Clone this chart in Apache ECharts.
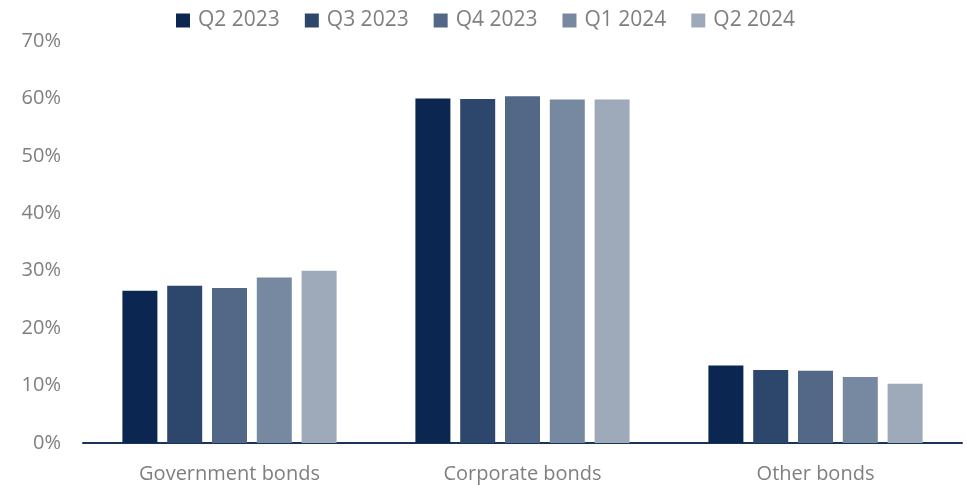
<!DOCTYPE html>
<html>
<head>
<meta charset="utf-8">
<script src="https://cdn.jsdelivr.net/npm/echarts@6/dist/echarts.min.js"></script>
<style>
html,body{margin:0;padding:0;background:#fff;}
#c{width:968px;height:485px;}
</style>
</head>
<body>
<div id="c"></div>
<script>
const categories = ['Government bonds', 'Corporate bonds', 'Other bonds'];
const seriesNames = ['Q2 2023', 'Q3 2023', 'Q4 2023', 'Q1 2024', 'Q2 2024'];
const q2_2023 = [26.5, 60.0, 13.5];
const q3_2023 = [27.4, 59.9, 12.7];
const q4_2023 = [27.0, 60.4, 12.6];
const q1_2024 = [28.8, 59.8, 11.5];
const q2_2024 = [30.0, 59.8, 10.3];
const yTicks = [0, 10, 20, 30, 40, 50, 60, 70];
const colors = ['#0b2751', '#2d466b', '#526886', '#7789a1', '#9eaaba'];

const values = [q2_2023, q3_2023, q4_2023, q1_2024, q2_2024];
const font = 'Open Sans';
const chart = echarts.init(document.getElementById('c'));
chart.setOption({
  animation: false,
  color: colors,
  textStyle: { fontFamily: font },
  legend: {
    top: 5,
    left: 171,
    itemWidth: 14,
    itemHeight: 14,
    itemGap: 25,
    icon: 'rect',
    textStyle: { fontFamily: font, fontSize: 21, color: '#7f7f7f', padding: [0, 0, 0, 3] },
    data: seriesNames
  },
  grid: { left: 83, right: 6, top: 41, bottom: 42, containLabel: false },
  xAxis: {
    type: 'category',
    data: categories,
    axisLine: { show: true, lineStyle: { color: '#1a3358', width: 2 } },
    axisTick: { show: false },
    axisLabel: { fontFamily: font, fontSize: 20, color: '#7f7f7f', margin: 21 }
  },
  yAxis: {
    type: 'value',
    min: yTicks[0],
    max: yTicks[yTicks.length - 1],
    interval: 10,
    axisLine: { show: false },
    axisTick: { show: false },
    splitLine: { show: false },
    axisLabel: { fontFamily: font, fontSize: 20, color: '#7f7f7f', margin: 22, formatter: v => v + '%' }
  },
  series: seriesNames.map((n, i) => ({
    name: n,
    type: 'bar',
    data: values[i],
    barWidth: 35,
    barGap: '28%',
    itemStyle: { color: colors[i] }
  }))
});
</script>
</body>
</html>
